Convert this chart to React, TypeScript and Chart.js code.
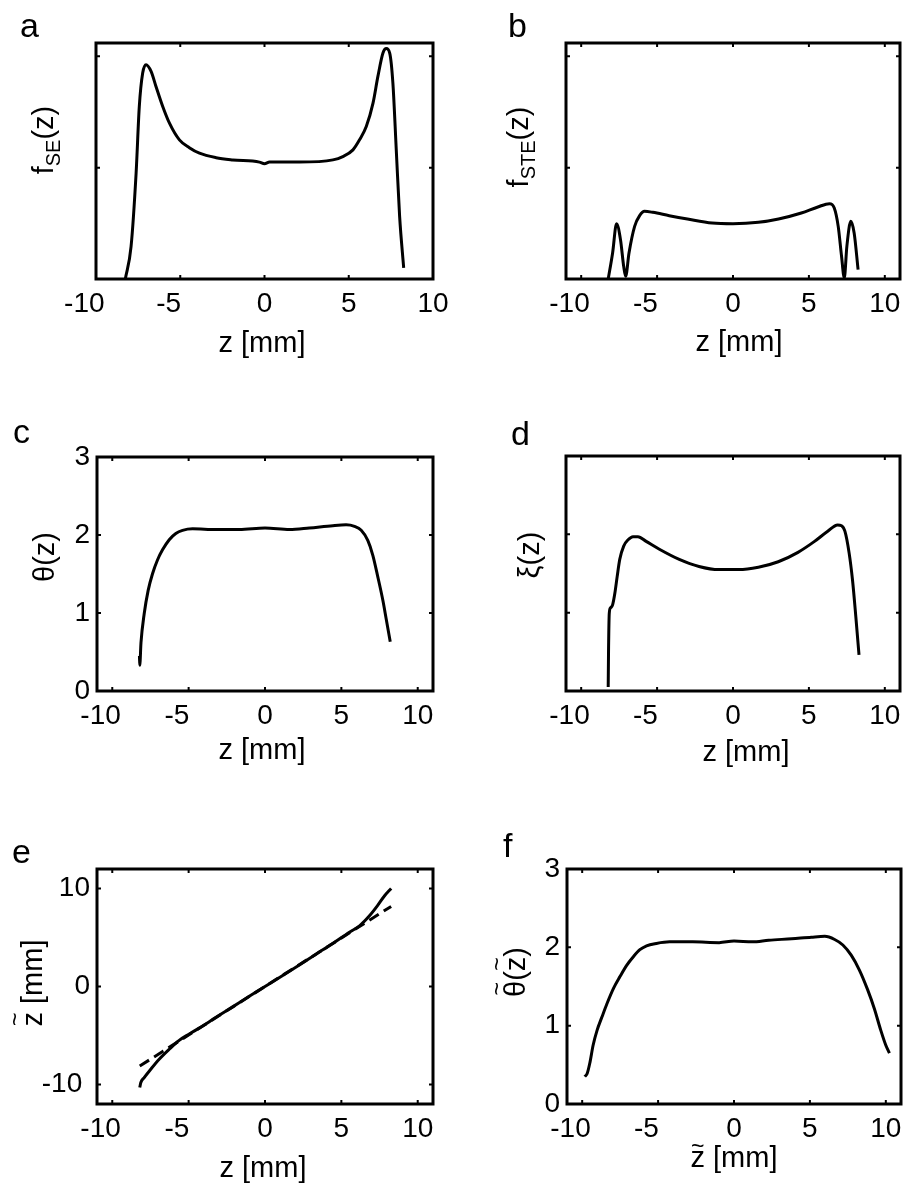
import React, { useEffect, useRef } from 'react';
import { Chart, registerables } from 'chart.js';
Chart.register(...registerables);

const FAMILY = '"Liberation Sans", Arial, Helvetica, sans-serif';

// ---------- data ----------
// a: f_SE(z)
const zSE = [-8.26, -7.92, -7.62, -7.43, -7.23, -7.03, -6.73, -6.44, -6.04, -5.64, -5.05, -4.46, -3.86, -2.87, -1.88, -0.3, 0, 0.3, 2.08, 4.06, 4.65, 5.25, 5.64, 6.04, 6.44, 6.73, 7.03, 7.23, 7.43, 7.62, 7.82, 8.02, 8.26];
const fSE = [0, 0.29, 0.95, 1.55, 1.85, 1.925, 1.865, 1.73, 1.55, 1.4, 1.25, 1.18, 1.13, 1.09, 1.07, 1.05, 1.035, 1.05, 1.05, 1.07, 1.1, 1.16, 1.25, 1.37, 1.58, 1.82, 2.03, 2.07, 2.03, 1.76, 1.16, 0.56, 0.1];
// b: f_STE(z)
const zSTE = [-8.22, -7.93, -7.67, -7.41, -7.2, -7.07, -6.85, -6.48, -6.15, -5.83, -5.28, -4.2, -3.0, -1.37, 0, 1.67, 3.0, 4.5, 5.59, 6.35, 6.67, 6.93, 7.15, 7.33, 7.5, 7.76, 7.98, 8.24];
const fSTE = [0, 0.234, 0.497, 0.353, 0.114, 0.024, 0.234, 0.473, 0.569, 0.608, 0.599, 0.569, 0.539, 0.503, 0.497, 0.509, 0.539, 0.593, 0.647, 0.677, 0.638, 0.473, 0.204, 0.01, 0.293, 0.518, 0.413, 0.084];
// c: theta(z)
const zTheta = [-8.22, -8.2, -8.12, -7.91, -7.65, -7.37, -7.04, -6.71, -6.27, -5.84, -5.4, -4.74, -3.2, -1.68, 0, 1.6, 2.9, 4.44, 5.31, 5.86, 6.3, 6.73, 7.06, 7.39, 7.72, 7.93, 8.2];
const theta = [0.45, 0.33, 0.62, 0.99, 1.29, 1.5, 1.68, 1.81, 1.94, 2.02, 2.06, 2.08, 2.07, 2.07, 2.09, 2.07, 2.09, 2.12, 2.13, 2.11, 2.06, 1.93, 1.74, 1.46, 1.16, 0.93, 0.63];
// d: xi(z)
const zXi = [-8.22, -8.2, -8.15, -8.07, -7.93, -7.78, -7.63, -7.46, -7.2, -6.91, -6.59, -6.26, -5.72, -4.85, -3.54, -2.24, -0.93, 0.37, 1.67, 2.98, 4.28, 5.37, 6.24, 6.89, 7.15, 7.37, 7.65, 7.87, 8.09, 8.3];
const xi = [0.05, 0.48, 0.99, 1.06, 1.1, 1.25, 1.46, 1.68, 1.85, 1.93, 1.97, 1.97, 1.91, 1.81, 1.68, 1.59, 1.55, 1.55, 1.58, 1.65, 1.77, 1.91, 2.04, 2.12, 2.11, 2.04, 1.76, 1.42, 0.95, 0.46];
// e: z~(z) and linear reference
const zMap = [-8.2, -8.13, -7.91, -7.48, -6.93, -6.27, -5.62, -4.96, -4.31, -3.21, -2.12, -1.03, 0, 1.16, 2.25, 3.34, 4.44, 5.53, 6.19, 6.84, 7.39, 7.83, 8.26];
const zTildeMap = [-10.32, -9.81, -9.3, -8.45, -7.43, -6.41, -5.5, -4.85, -4.25, -3.15, -2.08, -1.0, 0, 1.12, 2.2, 3.3, 4.4, 5.55, 6.2, 7.22, 8.31, 9.27, 10.02];
const zFit = [-8.2, 8.26];
const zTildeFit = [-8.12, 8.18];
// f: theta~(z~)
const zTilde = [-9.83, -9.67, -9.5, -9.28, -9.02, -8.7, -8.37, -7.93, -7.5, -7.07, -6.63, -6.2, -5.76, -5.11, -4.24, -2.72, -0.98, 0, 1.2, 2.28, 3.8, 5.1, 5.98, 6.63, 7.17, 7.72, 8.26, 8.8, 9.24, 9.67, 10.0, 10.24];
const thetaTilde = [0.35, 0.39, 0.52, 0.75, 0.94, 1.11, 1.28, 1.48, 1.63, 1.77, 1.88, 1.97, 2.02, 2.05, 2.07, 2.07, 2.06, 2.08, 2.07, 2.09, 2.11, 2.13, 2.14, 2.1, 2.03, 1.9, 1.71, 1.46, 1.22, 0.94, 0.75, 0.65];

// ticks
const zTicks = [-10, -5, 0, 5, 10];
const fTicks = [0, 1, 2];
const angleTicks = [0, 1, 2, 3];
const zTildeTicks = [-10, 0, 10];

// ---------- panel layout ----------
type Seg = { t: string; sub?: boolean; tilde?: boolean };
type Series = { xs: number[]; ys: number[]; dash?: number[] };
interface PanelDef {
  key: string;
  box: [number, number, number, number]; // canvas left, top, width, height (page)
  area: [number, number, number, number]; // l, t, r, b (page)
  xRange: [number, number];
  yRange: [number, number];
  xTicks: number[];
  yTicks: number[];
  yLabels: boolean;
  letter: [string, number, number];
  xTitle: { segs: Seg[]; cx: number; base: number; rise?: number };
  yTitle: { segs: Seg[]; baseX: number; cy: number; rise?: number };
  series: Series[];
}

const zmm: Seg[] = [{ t: 'z [mm]' }];

const panels: PanelDef[] = [
  {
    key: 'a', box: [0, 0, 453, 400], area: [96, 43, 433, 279],
    xRange: [-10, 10], yRange: [0, 2.12], xTicks: zTicks, yTicks: fTicks, yLabels: false,
    letter: ['a', 20, 37],
    xTitle: { segs: zmm, cx: 262, base: 352 },
    yTitle: { segs: [{ t: 'f' }, { t: 'SE', sub: true }, { t: '(z)' }], baseX: 53, cy: 140 },
    series: [{ xs: zSE, ys: fSE }],
  },
  {
    key: 'b', box: [453, 0, 453, 400], area: [566, 43, 900, 279],
    xRange: [-11, 11], yRange: [0, 2.12], xTicks: zTicks, yTicks: fTicks, yLabels: false,
    letter: ['b', 508, 37],
    xTitle: { segs: zmm, cx: 739, base: 351 },
    yTitle: { segs: [{ t: 'f' }, { t: 'STE', sub: true }, { t: '(z)' }], baseX: 528, cy: 147 },
    series: [{ xs: zSTE, ys: fSTE }],
  },
  {
    key: 'c', box: [0, 400, 453, 400], area: [97, 457, 433, 691],
    xRange: [-11, 11], yRange: [0, 3], xTicks: zTicks, yTicks: angleTicks, yLabels: true,
    letter: ['c', 13, 443],
    xTitle: { segs: zmm, cx: 262, base: 759 },
    yTitle: { segs: [{ t: 'θ(z)' }], baseX: 54, cy: 557 },
    series: [{ xs: zTheta, ys: theta }],
  },
  {
    key: 'd', box: [453, 400, 453, 400], area: [566, 456, 900, 691],
    xRange: [-11, 11], yRange: [0, 3], xTicks: zTicks, yTicks: angleTicks, yLabels: false,
    letter: ['d', 511, 445],
    xTitle: { segs: zmm, cx: 746, base: 761 },
    yTitle: { segs: [{ t: 'ξ(z)' }], baseX: 539, cy: 555 },
    series: [{ xs: zXi, ys: xi }],
  },
  {
    key: 'e', box: [0, 800, 453, 385], area: [97, 869, 433, 1104],
    xRange: [-11, 11], yRange: [-12, 12], xTicks: zTicks, yTicks: zTildeTicks, yLabels: true,
    letter: ['e', 12, 863],
    xTitle: { segs: zmm, cx: 263, base: 1177 },
    yTitle: { segs: [{ t: 'z', tilde: true }, { t: ' [mm]' }], baseX: 42, cy: 983, rise: 28 },
    series: [{ xs: zMap, ys: zTildeMap }, { xs: zFit, ys: zTildeFit, dash: [11, 6] }],
  },
  {
    key: 'f', box: [453, 800, 453, 385], area: [567, 869, 901, 1104],
    xRange: [-11, 11], yRange: [0, 3], xTicks: zTicks, yTicks: angleTicks, yLabels: true,
    letter: ['f', 503, 857],
    xTitle: { segs: [{ t: 'z', tilde: true }, { t: ' [mm]' }], cx: 734, base: 1167, rise: 22 },
    yTitle: { segs: [{ t: 'θ', tilde: true }, { t: '(' }, { t: 'z', tilde: true }, { t: ')' }], baseX: 525, cy: 972, rise: 29 },
    series: [{ xs: zTilde, ys: thetaTilde }],
  },
];

const TITLE_FS = 29;
const SUB_FS = 20;
const SUB_DROP = 7;
const TICK_FS = 28;

function segWidth(ctx: CanvasRenderingContext2D, segs: Seg[]) {
  let w = 0;
  for (const s of segs) {
    ctx.font = `${s.sub ? SUB_FS : TITLE_FS}px ${FAMILY}`;
    w += ctx.measureText(s.t).width;
  }
  return w;
}

function drawSegs(ctx: CanvasRenderingContext2D, segs: Seg[], x0: number, base: number, rise: number) {
  let x = x0;
  for (const s of segs) {
    const size = s.sub ? SUB_FS : TITLE_FS;
    ctx.font = `${size}px ${FAMILY}`;
    ctx.textAlign = 'left';
    ctx.textBaseline = 'alphabetic';
    const w = ctx.measureText(s.t).width;
    ctx.fillText(s.t, x, base + (s.sub ? SUB_DROP : 0));
    if (s.tilde) {
      ctx.font = `${Math.round(TITLE_FS * 0.8)}px ${FAMILY}`;
      const m = ctx.measureText('~');
      const mid = (m.actualBoundingBoxAscent - m.actualBoundingBoxDescent) / 2;
      ctx.textAlign = 'center';
      ctx.fillText('~', x + w / 2, base - rise + mid);
    }
    x += w;
  }
}

function makeFramePlugin(p: PanelDef) {
  const ox = p.box[0];
  const oy = p.box[1];
  return {
    id: 'frame' + p.key,
    afterDraw(chart: any) {
      const { ctx, chartArea } = chart;
      const { left, top, right, bottom } = chartArea;
      const xs = chart.scales.x;
      const ys = chart.scales.y;
      ctx.save();
      ctx.strokeStyle = '#000';
      ctx.fillStyle = '#000';
      // inward tick marks on all four sides
      ctx.lineWidth = 2;
      ctx.beginPath();
      for (const t of xs.ticks) {
        const px = xs.getPixelForValue(t.value);
        ctx.moveTo(px, bottom); ctx.lineTo(px, bottom - 4);
        ctx.moveTo(px, top); ctx.lineTo(px, top + 4);
      }
      for (const t of ys.ticks) {
        const py = ys.getPixelForValue(t.value);
        ctx.moveTo(left, py); ctx.lineTo(left + 4, py);
        ctx.moveTo(right, py); ctx.lineTo(right - 4, py);
      }
      ctx.stroke();
      // box
      ctx.lineWidth = 3;
      ctx.strokeRect(left, top, right - left, bottom - top);
      // panel letter
      ctx.font = `34px ${FAMILY}`;
      ctx.textAlign = 'left';
      ctx.textBaseline = 'alphabetic';
      ctx.fillText(p.letter[0], p.letter[1] - ox, p.letter[2] - oy);
      // x title
      const xw = segWidth(ctx, p.xTitle.segs);
      drawSegs(ctx, p.xTitle.segs, p.xTitle.cx - ox - xw / 2, p.xTitle.base - oy, p.xTitle.rise ?? 22);
      // y title (rotated)
      const yw = segWidth(ctx, p.yTitle.segs);
      ctx.save();
      ctx.translate(p.yTitle.baseX - ox, p.yTitle.cy - oy);
      ctx.rotate(-Math.PI / 2);
      drawSegs(ctx, p.yTitle.segs, -yw / 2, 0, p.yTitle.rise ?? 22);
      ctx.restore();
      ctx.restore();
    },
  };
}

function fmtX(v: number) {
  return v < 0 ? `${v}   ` : `${v}`;
}
function fmtY(v: number) {
  return v < 0 ? `${v} ` : `${v}`;
}

function Panel({ p }: { p: PanelDef }) {
  const ref = useRef<HTMLCanvasElement>(null);
  useEffect(() => {
    const canvas = ref.current;
    if (!canvas) return;
    const [bx, by, bw, bh] = p.box;
    const [l, t, r, b] = p.area;
    const L = l - bx;
    const T = t - by;
    const R = bw - (r - bx);
    const B = bh - (b - by);
    const chart = new Chart(canvas, {
      type: 'line',
      data: {
        datasets: p.series.map((s) => ({
          data: s.xs.map((x, i) => ({ x, y: s.ys[i] })),
          borderColor: '#000',
          borderWidth: 3,
          borderDash: s.dash ?? [],
          pointRadius: 0,
          cubicInterpolationMode: 'monotone' as const,
          fill: false,
        })),
      },
      options: {
        responsive: false,
        animation: false,
        events: [],
        layout: { padding: { top: T, right: R, left: 0, bottom: 0 } },
        plugins: { legend: { display: false }, tooltip: { enabled: false }, title: { display: false } },
        scales: {
          x: {
            type: 'linear',
            min: p.xRange[0],
            max: p.xRange[1],
            grid: { display: false, drawTicks: false },
            border: { display: false },
            ticks: {
              padding: 8,
              color: '#000',
              autoSkip: false,
              maxRotation: 0,
              minRotation: 0,
              font: { family: FAMILY, size: TICK_FS },
              callback: (v: any) => fmtX(Number(v)),
            },
            afterBuildTicks: (s: any) => {
              s.ticks = p.xTicks.map((v) => ({ value: v }));
            },
            afterFit: (s: any) => {
              s.height = B;
              s.paddingLeft = 0;
              s.paddingRight = 0;
            },
          },
          y: {
            type: 'linear',
            min: p.yRange[0],
            max: p.yRange[1],
            grid: { display: false, drawTicks: false },
            border: { display: false },
            ticks: {
              display: p.yLabels,
              padding: 7,
              color: '#000',
              autoSkip: false,
              font: { family: FAMILY, size: TICK_FS },
              callback: (v: any) => fmtY(Number(v)),
            },
            afterBuildTicks: (s: any) => {
              s.ticks = p.yTicks.map((v) => ({ value: v }));
            },
            afterFit: (s: any) => {
              s.width = L;
              s.paddingTop = 0;
              s.paddingBottom = 0;
            },
          },
        },
      } as any,
      plugins: [makeFramePlugin(p)],
    });
    return () => chart.destroy();
  }, [p]);
  const [bx, by, bw, bh] = p.box;
  return (
    <canvas
      ref={ref}
      width={bw}
      height={bh}
      style={{ position: 'absolute', left: bx, top: by, width: bw, height: bh }}
    />
  );
}

export default function App() {
  return (
    <div
      style={{
        position: 'absolute',
        left: 0,
        top: 0,
        width: 906,
        height: 1185,
        overflow: 'hidden',
        background: '#fff',
      }}
    >
      {panels.map((p) => (
        <Panel key={p.key} p={p} />
      ))}
    </div>
  );
}
